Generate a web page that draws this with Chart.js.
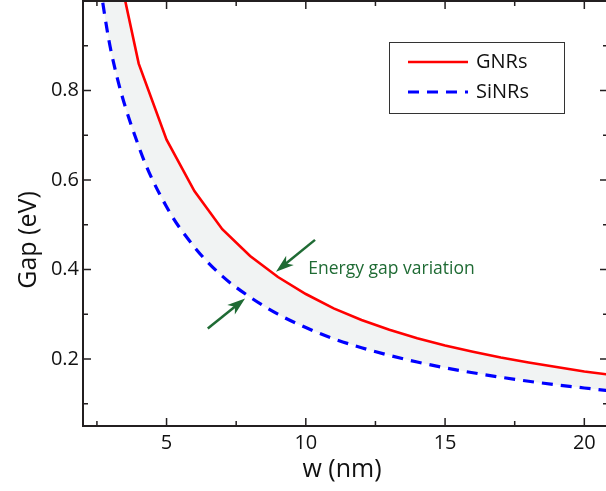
<!DOCTYPE html>
<html>
<head>
<meta charset="utf-8">
<script src="https://cdn.jsdelivr.net/npm/chart.js@4.4.1/dist/chart.umd.min.js"></script>
<style>
  html, body { margin: 0; padding: 0; overflow: hidden; background: #fff; }
  #wrap { width: 614px; height: 491px; }
</style>
</head>
<body>
<div id="wrap"><canvas id="chartGap" width="614" height="491"></canvas></div>
<script>
// ribbon width w (nm)
const widths = [2.5, 3, 4, 5, 6, 7, 8, 9, 10, 11, 12, 13, 14, 15, 16, 17, 18, 19, 20, 21];
// band gap (eV)
const gapGNR  = [1.38, 1.15, 0.86, 0.69, 0.575, 0.49, 0.43, 0.383, 0.345, 0.313, 0.287, 0.265, 0.246, 0.23, 0.216, 0.203, 0.192, 0.182, 0.172, 0.164];
const gapSiNR = [1.08, 0.89, 0.675, 0.54, 0.45, 0.385, 0.338, 0.30, 0.27, 0.245, 0.225, 0.208, 0.193, 0.18, 0.169, 0.159, 0.15, 0.142, 0.135, 0.128];

const xTicks = [5, 10, 15, 20];
const xMinor = [2.5, 7.5, 12.5, 17.5];
const yTicks = [0.2, 0.4, 0.6, 0.8];
const yMinor = [0.1, 0.3, 0.5, 0.7, 0.9];

const seriesNames = ['GNRs', 'SiNRs'];
const xTitle = 'w (nm)';
const yTitle = 'Gap (eV)';
const noteText = 'Energy gap variation';
// arrows: [tail w, tail gap, tip w, tip gap]
const arrows = [[10.33, 0.466, 8.93, 0.395], [6.48, 0.268, 7.82, 0.335]];
const notePos = [10.09, 0.401];

const FONT = '"Open Sans", "Liberation Sans", sans-serif';
const INK = '#231f20';
const GREEN = '#1f6b34';

function pts(ys) { return widths.map((w, i) => ({ x: w, y: ys[i] })); }

const framePlugin = {
  id: 'frame',
  afterDatasetsDraw(chart) {
    const ctx = chart.ctx, ca = chart.chartArea;
    const xs = chart.scales.x, ys = chart.scales.y;
    ctx.save();
    ctx.strokeStyle = INK;
    ctx.lineWidth = 2;
    ctx.beginPath();
    ctx.rect(ca.left, ca.top, ca.right - ca.left, ca.bottom - ca.top);
    ctx.stroke();

    ctx.lineWidth = 1.5;
    ctx.beginPath();
    const tx = (v, len) => {
      const p = xs.getPixelForValue(v);
      ctx.moveTo(p, ca.bottom); ctx.lineTo(p, ca.bottom - len);
      ctx.moveTo(p, ca.top); ctx.lineTo(p, ca.top + len);
    };
    const ty = (v, len) => {
      const p = ys.getPixelForValue(v);
      ctx.moveTo(ca.left, p); ctx.lineTo(ca.left + len, p);
      ctx.moveTo(ca.right, p); ctx.lineTo(ca.right - len, p);
    };
    xTicks.forEach(v => tx(v, 8));
    xMinor.forEach(v => tx(v, 5));
    yTicks.forEach(v => ty(v, 8));
    yMinor.forEach(v => ty(v, 5));
    ctx.stroke();

    // axis titles
    ctx.fillStyle = '#111';
    ctx.font = '25px ' + FONT;
    ctx.textAlign = 'center';
    ctx.textBaseline = 'middle';
    ctx.fillText(xTitle, 342, 470);
    ctx.save();
    ctx.translate(29, 240);
    ctx.rotate(-Math.PI / 2);
    ctx.fillText(yTitle, 0, 0);
    ctx.restore();

    // legend box
    const lx = 389, ly = 42, lw = 175, lh = 71;
    ctx.lineWidth = 1;
    ctx.strokeStyle = '#333';
    ctx.strokeRect(lx + 0.5, ly + 0.5, lw, lh);
    chart.data.datasets.forEach((ds, i) => {
      const yy = ly + 20 + i * 30;
      ctx.beginPath();
      ctx.strokeStyle = ds.borderColor;
      ctx.lineWidth = ds.borderWidth;
      ctx.setLineDash(ds.borderDash || []);
      ctx.moveTo(lx + 19, yy);
      ctx.lineTo(lx + 79, yy);
      ctx.stroke();
      ctx.setLineDash([]);
      ctx.fillStyle = '#111';
      ctx.font = '20px ' + FONT;
      ctx.textBaseline = 'middle';
      ctx.textAlign = 'left';
      ctx.fillText(seriesNames[i], lx + 87, yy);
    });

    // arrows + note
    ctx.strokeStyle = GREEN;
    ctx.fillStyle = GREEN;
    ctx.lineWidth = 2.5;
    arrows.forEach(a => {
      const x0 = xs.getPixelForValue(a[0]), y0 = ys.getPixelForValue(a[1]);
      const x1 = xs.getPixelForValue(a[2]), y1 = ys.getPixelForValue(a[3]);
      const ang = Math.atan2(y1 - y0, x1 - x0);
      const hl = 15, hw = 6;
      const bx = x1 - hl * Math.cos(ang), by = y1 - hl * Math.sin(ang);
      ctx.beginPath();
      ctx.moveTo(x0, y0);
      ctx.lineTo(bx + 3 * Math.cos(ang), by + 3 * Math.sin(ang));
      ctx.stroke();
      ctx.beginPath();
      ctx.moveTo(x1, y1);
      ctx.lineTo(bx - hw * Math.sin(ang) - 3 * Math.cos(ang), by + hw * Math.cos(ang) - 3 * Math.sin(ang));
      ctx.lineTo(bx + 2 * Math.cos(ang), by + 2 * Math.sin(ang));
      ctx.lineTo(bx + hw * Math.sin(ang) - 3 * Math.cos(ang), by - hw * Math.cos(ang) - 3 * Math.sin(ang));
      ctx.closePath();
      ctx.fill();
    });
    ctx.font = '17.5px ' + FONT;
    ctx.textBaseline = 'middle';
    ctx.textAlign = 'left';
    ctx.fillText(noteText, xs.getPixelForValue(notePos[0]), ys.getPixelForValue(notePos[1]));
    ctx.restore();
  }
};

new Chart(document.getElementById('chartGap'), {
  type: 'line',
  data: {
    datasets: [{
      label: seriesNames[0],
      data: pts(gapGNR),
      borderColor: '#ff0000',
      borderWidth: 2.6,
      tension: 0,
      pointRadius: 0,
      fill: '+1',
      backgroundColor: '#f1f3f3'
    }, {
      label: seriesNames[1],
      data: pts(gapSiNR),
      borderColor: '#0000ff',
      borderWidth: 3.2,
      borderDash: [11, 8],
      cubicInterpolationMode: 'monotone',
      pointRadius: 0,
      fill: false
    }]
  },
  options: {
    responsive: false,
    animation: false,
    devicePixelRatio: 1,
    layout: { padding: { top: 1, right: 6, left: 0, bottom: 0 } },
    plugins: {
      legend: { display: false },
      tooltip: { enabled: false },
      filler: { drawTime: 'beforeDatasetsDraw' }
    },
    scales: {
      x: {
        type: 'linear',
        min: 2,
        max: 20.85,
        grid: { display: false, drawTicks: false },
        border: { display: false },
        afterBuildTicks: s => { s.ticks = xTicks.map(v => ({ value: v })); },
        afterFit: s => { s.height = 65; s.paddingLeft = 0; s.paddingRight = 0; },
        ticks: { color: '#111', font: { family: FONT, size: 20 }, padding: 5 }
      },
      y: {
        min: 0.05,
        max: 1.0,
        grid: { display: false, drawTicks: false },
        border: { display: false },
        afterBuildTicks: s => { s.ticks = yTicks.map(v => ({ value: v })); },
        afterFit: s => { s.width = 83; s.paddingTop = 0; s.paddingBottom = 0; },
        ticks: { color: '#111', font: { family: FONT, size: 20 }, padding: 4, callback: v => v.toFixed(1) }
      }
    }
  },
  plugins: [framePlugin]
});
</script>
</body>
</html>
